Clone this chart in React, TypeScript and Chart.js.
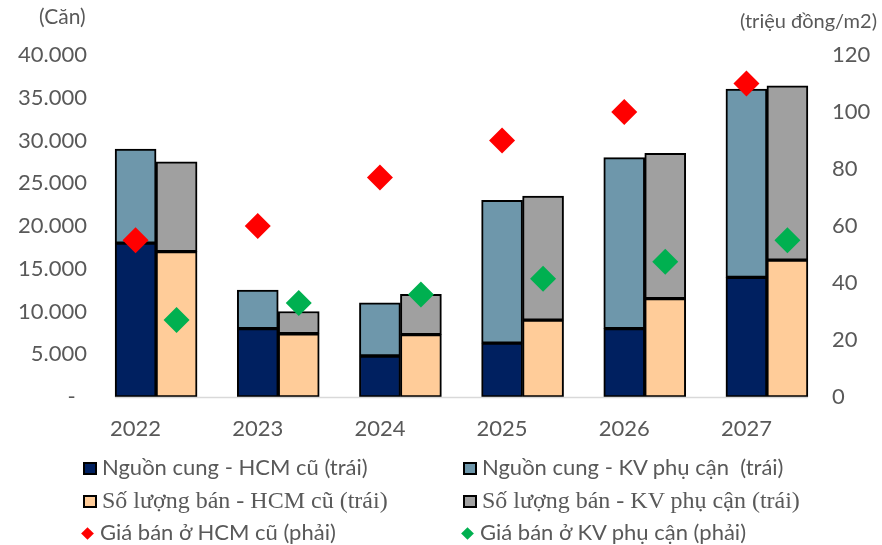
import React, { useEffect, useRef } from "react";
import { Chart, registerables } from "chart.js";

Chart.register(...registerables);

const years = ["2022", "2023", "2024", "2025", "2026", "2027"];
const supplyHCM = [18000, 8000, 4800, 6300, 8000, 14000];
const supplyKV = [11000, 4500, 6200, 16700, 20000, 22000];
const salesHCM = [17000, 7400, 7300, 9000, 11500, 16000];
const salesKV = [10500, 2600, 4700, 14500, 17000, 20400];
const priceHCM = [55, 60, 77, 90, 100, 110];
const priceKV = [27, 33, 36, 41.5, 47.5, 55];

const leftMax = 40000;
const leftStep = 5000;
const rightMax = 120;
const rightStep = 20;

const labelSupplyHCM = "Nguồn cung - HCM cũ (trái)";
const labelSupplyKV = "Nguồn cung - KV phụ cận  (trái)";
const labelSalesHCM = "Số lượng bán - HCM cũ (trái)";
const labelSalesKV = "Số lượng bán - KV phụ cận (trái)";
const labelPriceHCM = "Giá bán ở HCM cũ (phải)";
const labelPriceKV = "Giá bán ở KV phụ cận (phải)";

const leftTitle = "(Căn)";
const rightTitle = "(triệu đồng/m2)";

const C_NAVY = "#002060";
const C_STEEL = "#6E97AB";
const C_PEACH = "#FFCC99";
const C_GRAY = "#A0A0A0";
const C_RED = "#FF0000";
const C_GREEN = "#00B050";
const TEXT = "#595959";
const SANS = "Lato, 'Noto Sans', sans-serif";
const SERIF = "'Liberation Serif', 'DejaVu Serif', serif";

// share of each category occupied by the two side-by-side stacks
const CAT_PCT = 0.671;
const HALF_OFFSET = CAT_PCT / 4;

function fmtThousands(v: number): string {
  if (v === 0) return "-  ";
  return String(v).replace(/\B(?=(\d{3})+(?!\d))/g, ".");
}

const baselinePlugin = {
  id: "baseline",
  afterDatasetsDraw(chart: any) {
    const first = chart.getDatasetMeta(0);
    const last = chart.getDatasetMeta(2);
    if (!first.data.length || !last.data.length) return;
    const b0 = first.data[0] as any;
    const b1 = last.data[last.data.length - 1] as any;
    const y = chart.scales.y.getPixelForValue(0);
    const ctx = chart.ctx;
    ctx.save();
    ctx.strokeStyle = "#D9D9D9";
    ctx.lineWidth = 1.5;
    ctx.beginPath();
    ctx.moveTo(b0.x - b0.width / 2, y + 0.5);
    ctx.lineTo(b1.x + b1.width / 2, y + 0.5);
    ctx.stroke();
    ctx.restore();
  },
};

function Swatch({ color }: { color: string }) {
  return (
    <span
      style={{
        display: "inline-block",
        width: 10,
        height: 9,
        background: color,
        border: "2px solid #000",
        marginRight: 5,
        verticalAlign: "middle",
        position: "relative",
        top: -1,
      }}
    />
  );
}

function Diamond({ color }: { color: string }) {
  return (
    <span
      style={{
        display: "inline-block",
        width: 9,
        height: 9,
        background: color,
        transform: "rotate(45deg)",
        marginLeft: 2,
        marginRight: 8,
        verticalAlign: "middle",
        position: "relative",
        top: -1,
      }}
    />
  );
}

export default function App() {
  const canvasRef = useRef<HTMLCanvasElement | null>(null);

  useEffect(() => {
    document.body.style.margin = "0";
    const canvas = canvasRef.current;
    if (!canvas) return;
    const n = years.length;
    const idx = years.map((_, i) => i);
    const left = (arr: number[]) => idx.map((i) => ({ x: i - HALF_OFFSET, y: arr[i] }));
    const right = (arr: number[]) => idx.map((i) => ({ x: i + HALF_OFFSET, y: arr[i] }));
    const barCommon = {
      type: "bar",
      xAxisID: "x2",
      yAxisID: "y",
      borderColor: "#000000",
      borderWidth: 2,
      borderSkipped: false,
      barPercentage: 1,
      categoryPercentage: 1,
      grouped: false,
      order: 1,
    };
    const pointCommon = {
      type: "scatter",
      xAxisID: "x2",
      yAxisID: "y2",
      showLine: false,
      pointStyle: "rectRot",
      pointRadius: 13,
      pointBorderWidth: 0,
      order: 0,
    };
    const chart = new Chart(canvas, {
      type: "bar",
      data: {
        labels: years,
        datasets: [
          { ...barCommon, label: labelSupplyHCM, data: left(supplyHCM), backgroundColor: C_NAVY, stack: "supply" } as any,
          { ...barCommon, label: labelSupplyKV, data: left(supplyKV), backgroundColor: C_STEEL, stack: "supply" } as any,
          { ...barCommon, label: labelSalesHCM, data: right(salesHCM), backgroundColor: C_PEACH, stack: "sales" } as any,
          { ...barCommon, label: labelSalesKV, data: right(salesKV), backgroundColor: C_GRAY, stack: "sales" } as any,
          {
            ...pointCommon,
            label: labelPriceHCM,
            data: left(priceHCM),
            backgroundColor: C_RED,
            borderColor: C_RED,
            pointBackgroundColor: C_RED,
            pointBorderColor: C_RED,
          } as any,
          {
            ...pointCommon,
            label: labelPriceKV,
            data: right(priceKV),
            backgroundColor: C_GREEN,
            borderColor: C_GREEN,
            pointBackgroundColor: C_GREEN,
            pointBorderColor: C_GREEN,
          } as any,
        ],
      },
      options: {
        animation: false,
        responsive: false,
        maintainAspectRatio: false,
        events: [],
        layout: { padding: { top: 55, left: 0, right: 0, bottom: 0 } },
        plugins: { legend: { display: false }, tooltip: { enabled: false } },
        scales: {
          x: {
            type: "category",
            offset: true,
            grid: { display: false, drawTicks: false },
            border: { display: false },
            ticks: {
              color: TEXT,
              font: { family: SANS, size: 22 },
              padding: 19,
              labelOffset: -20.5,
              maxRotation: 0,
            },
            afterFit: (s: any) => {
              s.height = 148;
            },
          },
          x2: {
            type: "linear",
            display: false,
            offset: false,
            grid: { offset: false },
            min: -0.5,
            max: n - 0.5,
            ticks: { stepSize: 1 },
          },
          y: {
            type: "linear",
            position: "left",
            stacked: true,
            min: 0,
            max: leftMax,
            grid: { display: false, drawTicks: false },
            border: { display: false },
            ticks: {
              stepSize: leftStep,
              color: TEXT,
              font: { family: SANS, size: 22 },
              padding: 8,
              callback: (v: any) => fmtThousands(Number(v)),
            },
            afterFit: (s: any) => {
              s.width = 95;
            },
          },
          y2: {
            type: "linear",
            position: "right",
            min: 0,
            max: rightMax,
            grid: { display: false, drawTicks: false },
            border: { display: false },
            ticks: {
              stepSize: rightStep,
              color: TEXT,
              font: { family: SANS, size: 22 },
              padding: 4,
            },
            afterFit: (s: any) => {
              s.width = 54;
            },
          },
        } as any,
      },
      plugins: [baselinePlugin],
    });

    return () => {
      chart.destroy();
    };
  }, []);

  const rowStyle = (top: number, left: number, serif: boolean): React.CSSProperties => ({
    position: "absolute",
    top,
    left,
    height: 32,
    lineHeight: "32px",
    whiteSpace: "pre",
    color: TEXT,
    fontFamily: serif ? SERIF : SANS,
    fontSize: serif ? 24 : 22,
  });

  return (
    <div style={{ position: "relative", width: 882, height: 545, background: "#fff", overflow: "hidden" }}>
      <canvas ref={canvasRef} width={882} height={545} style={{ display: "block", width: 882, height: 545 }} />
      <div style={{ position: "absolute", left: 39, top: 3, fontFamily: SANS, fontSize: 21, color: TEXT, whiteSpace: "pre" }}>
        {leftTitle}
      </div>
      <div style={{ position: "absolute", right: 5, top: 8, fontFamily: SANS, fontSize: 20, color: TEXT, whiteSpace: "pre", textAlign: "right" }}>
        {rightTitle}
      </div>
      <div style={rowStyle(451, 83, false)}>
        <Swatch color={C_NAVY} />
        {labelSupplyHCM}
      </div>
      <div style={rowStyle(451, 463, false)}>
        <Swatch color={C_STEEL} />
        {labelSupplyKV}
      </div>
      <div style={rowStyle(484, 83, true)}>
        <Swatch color={C_PEACH} />
        {labelSalesHCM}
      </div>
      <div style={rowStyle(484, 463, true)}>
        <Swatch color={C_GRAY} />
        {labelSalesKV}
      </div>
      <div style={rowStyle(516, 81, false)}>
        <Diamond color={C_RED} />
        {labelPriceHCM}
      </div>
      <div style={rowStyle(516, 461, false)}>
        <Diamond color={C_GREEN} />
        {labelPriceKV}
      </div>
    </div>
  );
}
